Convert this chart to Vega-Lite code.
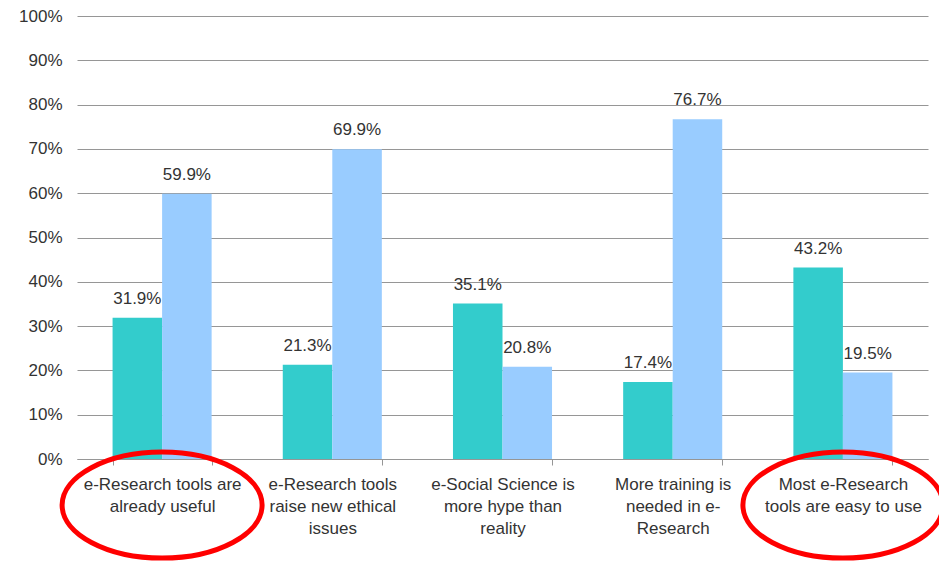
{
  "$schema": "https://vega.github.io/schema/vega-lite/v6.json",
  "width": 851,
  "height": 443,
  "autosize": {"type": "none"},
  "padding": {"left": 77, "top": 16, "right": 11, "bottom": 102},
  "background": "white",
  "config": {"view": {"stroke": null}, "font": "Liberation Sans"},
  "datasets": {
    "bars": [
      {"statement": "e-Research tools are|already useful", "series": "Series 1", "share": 0.319},
      {"statement": "e-Research tools are|already useful", "series": "Series 2", "share": 0.599},
      {"statement": "e-Research tools|raise new ethical|issues", "series": "Series 1", "share": 0.213},
      {"statement": "e-Research tools|raise new ethical|issues", "series": "Series 2", "share": 0.699},
      {"statement": "e-Social Science is|more hype than|reality", "series": "Series 1", "share": 0.351},
      {"statement": "e-Social Science is|more hype than|reality", "series": "Series 2", "share": 0.208},
      {"statement": "More training is|needed in e-|Research", "series": "Series 1", "share": 0.174},
      {"statement": "More training is|needed in e-|Research", "series": "Series 2", "share": 0.767},
      {"statement": "Most e-Research|tools are easy to use", "series": "Series 1", "share": 0.432},
      {"statement": "Most e-Research|tools are easy to use", "series": "Series 2", "share": 0.195}
    ],
    "circled": [
      {"statement": "e-Research tools are|already useful"},
      {"statement": "Most e-Research|tools are easy to use"}
    ]
  },
  "layer": [
    {
      "data": {"name": "bars"},
      "mark": {"type": "bar"},
      "encoding": {
        "x": {
          "field": "statement",
          "type": "nominal",
          "sort": null,
          "scale": {"paddingInner": 0.418, "paddingOuter": 0.209},
          "axis": {
            "title": null,
            "labelExpr": "split(datum.label, '|')",
            "labelAngle": 0,
            "labelFontSize": 17,
            "labelColor": "#333333",
            "labelLineHeight": 22,
            "labelPadding": 11,
            "labelLimit": 0,
            "tickBand": "extent",
            "tickSize": 6,
            "tickColor": "#969696",
            "domainColor": "#969696",
            "grid": false
          }
        },
        "xOffset": {"field": "series", "type": "nominal", "scale": {"paddingInner": 0, "paddingOuter": 0}},
        "y": {
          "field": "share",
          "type": "quantitative",
          "scale": {"domain": [0, 1]},
          "axis": {
            "title": null,
            "format": ".0%",
            "values": [0, 0.1, 0.2, 0.3, 0.4, 0.5, 0.6, 0.7, 0.8, 0.9, 1],
            "grid": true,
            "gridColor": "#969696",
            "domain": false,
            "ticks": false,
            "tickSize": 0,
            "labelPadding": 15,
            "labelFontSize": 17,
            "labelColor": "#333333"
          }
        },
        "color": {"field": "series", "type": "nominal", "scale": {"range": ["#33CCCC", "#99CCFF"]}, "legend": null}
      }
    },
    {
      "data": {"name": "bars"},
      "mark": {"type": "text", "baseline": "middle", "dy": -19, "fontSize": 17, "color": "#333333"},
      "encoding": {
        "x": {"field": "statement", "type": "nominal", "sort": null},
        "xOffset": {"field": "series", "type": "nominal"},
        "y": {"field": "share", "type": "quantitative"},
        "text": {"field": "share", "type": "quantitative", "format": ".1%"}
      }
    },
    {
      "data": {"name": "circled"},
      "mark": {
        "type": "point",
        "filled": false,
        "stroke": "#FF0000",
        "strokeWidth": 5,
        "opacity": 1,
        "size": 40000,
        "shape": "M -1 0 C -1 -0.29 -0.552 -0.53 0 -0.53 C 0.552 -0.53 1 -0.29 1 0 C 1 0.29 0.552 0.53 0 0.53 C -0.552 0.53 -1 0.29 -1 0 Z"
      },
      "encoding": {
        "x": {"field": "statement", "type": "nominal", "sort": null},
        "y": {"datum": -0.104, "type": "quantitative"}
      }
    }
  ]
}
